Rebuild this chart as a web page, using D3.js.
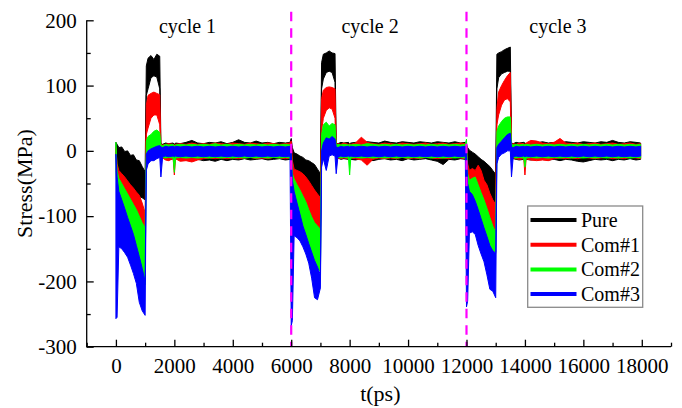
<!DOCTYPE html>
<html>
<head>
<meta charset="utf-8">
<script src="https://cdn.jsdelivr.net/npm/d3@7"></script>
<style>
  body { margin: 0; background: #fff; }
  svg { display: block; }
</style>
</head>
<body>
<svg id="chart" width="682" height="408"></svg>
<script>
// Three loading cycles, each 6000 ps long; samples inside a cycle are taken at these offsets (ps)
const cycleStarts = [0, 6000, 12000];
const cycleOffsets = [0, 40, 100, 200, 300, 400, 500, 600, 700, 800, 900, 1000,
  1040, 1100, 1200, 1300, 1400, 1500,
  1540, 1600, 1700, 1800, 1960, 2000, 2040, 2200, 2400, 2600, 2800, 3000, 3200, 3400,
  3600, 3800, 4000, 4200, 4400, 4600, 4800, 5000, 5200, 5400, 5600, 5800, 5960];

// Upper / lower envelope of the stress signal (MPa) for each sample
const pureHi = [
  13, 10, 5, 6, -1, 0, -7, -6, -14, -15, -24, -32, 130, 142, 146, 140, 148, 145,
  11, 10, 12, 11, 12, 10, 12, 11, 13, 16, 12, 11, 13, 12, 14, 11, 13, 17, 13, 12, 15, 12, 13, 11, 13, 12, 13,
  19, 5, -3, -5, -8, -10, -14, -15, -18, -21, -28, -35, 135, 148, 150, 153, 150, 149,
  12, 11, 13, 12, 13, 11, 12, 13, 12, 14, 13, 12, 15, 13, 12, 14, 13, 12, 14, 13, 12, 14, 13, 12, 14, 12, 13,
  10, 5, 1, -2, -5, -9, -13, -16, -20, -24, -30, -36, 148, 150, 152, 155, 157, 159,
  12, 11, 13, 12, 13, 12, 11, 13, 12, 14, 12, 13, 12, 14, 13, 12, 14, 13, 12, 14, 13, 16, 13, 12, 14, 13, 12];
const pureLo = [
  -5, -25, -33, -38, -43, -49, -55, -60, -66, -70, -72, -75, 85, 95, 112, 115, 113, 95,
  -9, -10, -12, -14, -12, -13, -12, -13, -12, -14, -13, -15, -14, -16, -13, -15, -13, -14, -12, -14, -13, -12, -14, -13, -12, -14, -13,
  -10, -20, -32, -35, -37, -40, -45, -51, -58, -65, -71, -75, 95, 110, 120, 122, 120, 105,
  -10, -11, -13, -12, -13, -12, -13, -14, -12, -13, -15, -13, -12, -14, -13, -15, -12, -14, -13, -12, -14, -16, -21, -13, -14, -12, -13,
  -10, -25, -35, -32, -35, -30, -36, -50, -57, -70, -80, -86, 95, 112, 118, 120, 122, 122,
  -11, -12, -13, -14, -13, -12, -13, -14, -13, -12, -14, -13, -15, -13, -14, -16, -17, -15, -13, -14, -13, -15, -13, -14, -12, -14, -13];

const com1Hi = [
  5, -20, -30, -35, -40, -46, -52, -57, -63, -68, -80, -95, 70, 85, 88, 90, 88, 86,
  10, 9, 10, 11, 10, 9, 10, 11, 10, 12, 10, 11, 10, 12, 11, 10, 12, 11, 10, 12, 11, 10, 12, 11, 10, 11, 12,
  15, -15, -28, -30, -32, -35, -40, -46, -53, -60, -66, -72, 80, 93, 97, 98, 97, 95,
  10, 11, 10, 12, 10, 11, 10, 12, 21, 13, 11, 10, 12, 11, 10, 12, 11, 10, 11, 12, 10, 11, 12, 10, 11, 12, 11,
  5, -20, -30, -27, -30, -22, -30, -45, -52, -65, -75, -82, 65, 90, 100, 108, 115, 120,
  10, 11, 10, 12, 11, 10, 12, 16, 15, 12, 11, 13, 19, 12, 11, 12, 10, 11, 12, 10, 11, 12, 10, 11, 12, 10, 11];
const com1Lo = [
  -10, -40, -48, -55, -62, -70, -78, -86, -95, -105, -118, -135, 25, 35, 50, 55, 55, 40,
  -10, -11, -14, -15, -12, -37, -12, -16, -15, -17, -14, -12, -11, -12, -11, -12, -11, -12, -11, -10, -12, -11, -12, -10, -11, -12, -11,
  -10, -40, -48, -57, -65, -74, -83, -95, -106, -115, -122, -126, 30, 50, 62, 66, 64, 50,
  -10, -11, -12, -11, -12, -13, -11, -12, -14, -22, -13, -11, -12, -11, -12, -10, -12, -11, -12, -10, -11, -12, -11, -12, -10, -11, -12,
  -10, -40, -50, -48, -46, -58, -70, -82, -95, -108, -122, -124, 40, 55, 70, 78, 80, 75,
  -10, -11, -12, -13, -12, -37, -12, -14, -15, -14, -15, -12, -11, -12, -11, -12, -10, -11, -12, -11, -10, -12, -11, -12, -10, -11, -12];

const com2Hi = [
  13, -30, -42, -50, -58, -66, -74, -82, -90, -100, -110, -118, 15, 22, 25, 30, 32, 28,
  9, 8, 10, 9, 10, 8, 9, 10, 9, 10, 9, 10, 9, 11, 9, 10, 9, 10, 9, 10, 9, 10, 9, 10, 9, 10, 9,
  5, -35, -43, -52, -60, -69, -78, -90, -101, -110, -115, -120, 25, 40, 44, 38, 42, 40,
  9, 10, 9, 10, 9, 10, 9, 10, 9, 11, 10, 9, 10, 9, 10, 9, 10, 9, 10, 9, 10, 9, 10, 9, 10, 9, 10,
  18, -35, -45, -42, -40, -52, -64, -75, -88, -102, -115, -125, 30, 38, 45, 50, 52, 52,
  10, 9, 10, 9, 10, 9, 10, 9, 10, 9, 10, 9, 10, 9, 10, 9, 10, 9, 10, 9, 10, 9, 10, 9, 10, 9, 10];
const com2Lo = [
  -30, -60, -70, -82, -95, -108, -120, -133, -148, -165, -185, -205, -10, 0, 2, 3, 4, 3,
  -9, -10, -11, -10, -11, -33, -11, -10, -11, -10, -11, -10, -11, -10, -11, -10, -11, -10, -11, -10, -11, -10, -11, -10, -11, -10, -11,
  -20, -55, -68, -85, -102, -120, -133, -147, -160, -172, -180, -185, -5, 10, 15, 15, 16, 14,
  -9, -10, -11, -10, -11, -37, -11, -10, -11, -10, -11, -10, -11, -10, -11, -10, -11, -10, -11, -10, -11, -10, -11, -10, -11, -10, -11,
  -20, -55, -67, -72, -82, -95, -109, -123, -136, -148, -155, -155, -5, 12, 15, 17, 20, 22,
  -9, -10, -11, -10, -11, -25, -11, -10, -11, -10, -11, -10, -11, -10, -11, -10, -11, -10, -11, -10, -11, -10, -11, -10, -11, -10, -11];

const com3Hi = [
  -5, -40, -62, -75, -88, -102, -115, -128, -145, -162, -180, -200, -5, 0, 3, 5, 7, 8,
  6, 5, 7, 6, 7, 6, 7, 6, 7, 6, 7, 6, 7, 6, 7, 6, 7, 6, 7, 6, 7, 6, 7, 6, 7, 6, 7,
  0, -45, -62, -80, -97, -115, -128, -142, -155, -168, -178, -190, 0, 12, 20, 18, 22, 18,
  6, 5, 7, 6, 7, 6, 7, 6, 7, 6, 7, 6, 7, 6, 7, 6, 7, 6, 7, 6, 7, 6, 7, 6, 7, 6, 7,
  0, -50, -62, -67, -77, -90, -104, -118, -131, -145, -153, -157, 5, 10, 15, 20, 25, 27,
  6, 5, 7, 6, 7, 6, 7, 6, 7, 6, 7, 6, 7, 6, 7, 6, 7, 6, 7, 6, 7, 6, 7, 6, 7, 6, 7];
const com3Lo = [
  -257, -255, -147, -150, -156, -163, -175, -188, -203, -232, -245, -252, -30, -20, -15, -15, -12, -10,
  -40, -9, -8, -9, -8, -9, -8, -9, -8, -9, -8, -9, -8, -9, -8, -9, -8, -9, -8, -9, -8, -9, -8, -9, -8, -9, -8,
  -268, -260, -130, -133, -138, -147, -158, -172, -195, -225, -228, -210, -25, -12, -30, -8, -6, -8,
  -35, -9, -8, -9, -8, -9, -8, -9, -8, -9, -8, -9, -8, -9, -8, -9, -8, -9, -8, -9, -8, -9, -8, -9, -8, -9, -8,
  -239, -230, -126, -124, -128, -145, -158, -170, -190, -212, -215, -225, -20, -10, -5, -3, 0, 0,
  -40, -9, -8, -9, -8, -9, -8, -9, -8, -9, -8, -9, -8, -9, -8, -9, -8, -9, -8, -9, -8, -9, -8, -9, -8, -9, -8];

const seriesNames = ["Pure", "Com#1", "Com#2", "Com#3"];
const seriesColors = ["#000000", "#ff0000", "#00ff00", "#0000ff"];
const seriesHi = [pureHi, com1Hi, com2Hi, com3Hi];
const seriesLo = [pureLo, com1Lo, com2Lo, com3Lo];

const xTicks = [0, 2000, 4000, 6000, 8000, 10000, 12000, 14000, 16000, 18000];
const xMinorTicks = [-1000, 1000, 3000, 5000, 7000, 9000, 11000, 13000, 15000, 17000, 19000];
const yTicks = [-300, -200, -100, 0, 100, 200];
const yMinorTicks = [-250, -150, -50, 50, 150];
const cycleLines = [6000, 12000];
const cycleLabels = ["cycle 1", "cycle 2", "cycle 3"];
const cycleLabelT = [2450, 8700, 15130];

const FONT = '"Liberation Serif", "Times New Roman", serif';

const times = cycleStarts.flatMap(c => cycleOffsets.map(o => c + o));

const svg = d3.select("#chart");
const x = d3.scaleLinear().domain([-1000, 19000]).range([86.7, 671]);
const y = d3.scaleLinear().domain([-300, 200]).range([346.7, 20.3]);

// Signal bands, drawn Pure first so Com#3 ends up on top
const band = d3.area()
  .x(d => x(d.t))
  .y0(d => y(d.lo))
  .y1(d => y(d.hi));

seriesNames.forEach((name, k) => {
  const pts = times.map((t, i) => ({ t, hi: seriesHi[k][i], lo: seriesLo[k][i] }));
  svg.append("path")
    .datum(pts)
    .attr("d", band)
    .attr("fill", seriesColors[k])
    .attr("stroke", seriesColors[k])
    .attr("stroke-width", 1)
    .attr("stroke-linejoin", "round");
});

// Cycle boundaries
svg.selectAll("line.cycle")
  .data(cycleLines)
  .join("line")
  .attr("class", "cycle")
  .attr("x1", d => x(d)).attr("x2", d => x(d))
  .attr("y1", y(213)).attr("y2", y(-300))
  .attr("stroke", "#ff00ff")
  .attr("stroke-width", 2.2)
  .attr("stroke-dasharray", "9.5,7");

// Axes (ticks point inward)
const gx = svg.append("g")
  .attr("transform", `translate(0,${y(-300)})`)
  .call(d3.axisBottom(x).tickValues(xTicks).tickSizeInner(-7).tickSizeOuter(0)
    .tickPadding(11).tickFormat(d => String(d)));
const gxm = svg.append("g")
  .attr("transform", `translate(0,${y(-300)})`)
  .call(d3.axisBottom(x).tickValues(xMinorTicks).tickSizeInner(-4).tickSizeOuter(0).tickFormat(""));
const gy = svg.append("g")
  .attr("transform", `translate(${x(-1000)},0)`)
  .call(d3.axisLeft(y).tickValues(yTicks).tickSizeInner(-7).tickSizeOuter(0)
    .tickPadding(10).tickFormat(d => String(d)));
const gym = svg.append("g")
  .attr("transform", `translate(${x(-1000)},0)`)
  .call(d3.axisLeft(y).tickValues(yMinorTicks).tickSizeInner(-4).tickSizeOuter(0).tickFormat(""));

[gx, gxm, gy, gym].forEach(g => {
  g.select(".domain").remove();
  g.attr("font-family", FONT).attr("font-size", 21);
  g.selectAll(".tick line").attr("stroke", "#000").attr("stroke-width", 1.3);
  g.selectAll(".tick text").attr("fill", "#000");
});

svg.append("line")
  .attr("x1", x(-1000)).attr("x2", x(19000))
  .attr("y1", y(-300)).attr("y2", y(-300))
  .attr("stroke", "#000").attr("stroke-width", 1.3);
svg.append("line")
  .attr("x1", x(-1000)).attr("x2", x(-1000))
  .attr("y1", y(-300) + 0.65).attr("y2", y(200))
  .attr("stroke", "#000").attr("stroke-width", 1.3);

// Axis titles
svg.append("text")
  .attr("x", (x(-1000) + x(19000)) / 2 + 1.5)
  .attr("y", 400.5)
  .attr("text-anchor", "middle")
  .attr("font-family", FONT).attr("font-size", 22)
  .text("t(ps)");
svg.append("text")
  .attr("transform", `translate(32,${(y(-300) + y(200)) / 2}) rotate(-90)`)
  .attr("text-anchor", "middle")
  .attr("font-family", FONT).attr("font-size", 22)
  .text("Stress(MPa)");

// Cycle captions
svg.selectAll("text.cap")
  .data(cycleLabels)
  .join("text")
  .attr("class", "cap")
  .attr("x", (d, i) => x(cycleLabelT[i]))
  .attr("y", y(180))
  .attr("text-anchor", "middle")
  .attr("font-family", FONT).attr("font-size", 20)
  .text(d => d);

// Legend
const lg = svg.append("g");
lg.append("rect")
  .attr("x", 527.7).attr("y", 206)
  .attr("width", 115).attr("height", 101.3)
  .attr("fill", "#fff")
  .attr("stroke", "#8a8a8a").attr("stroke-width", 1.3);
seriesNames.forEach((name, k) => {
  const ly = 220 + k * 24.7;
  lg.append("line")
    .attr("x1", 530.5).attr("x2", 576.5)
    .attr("y1", ly).attr("y2", ly)
    .attr("stroke", seriesColors[k]).attr("stroke-width", 4);
  lg.append("text")
    .attr("x", 581).attr("y", ly + 7)
    .attr("font-family", FONT).attr("font-size", 20)
    .text(name);
});
</script>
</body>
</html>
